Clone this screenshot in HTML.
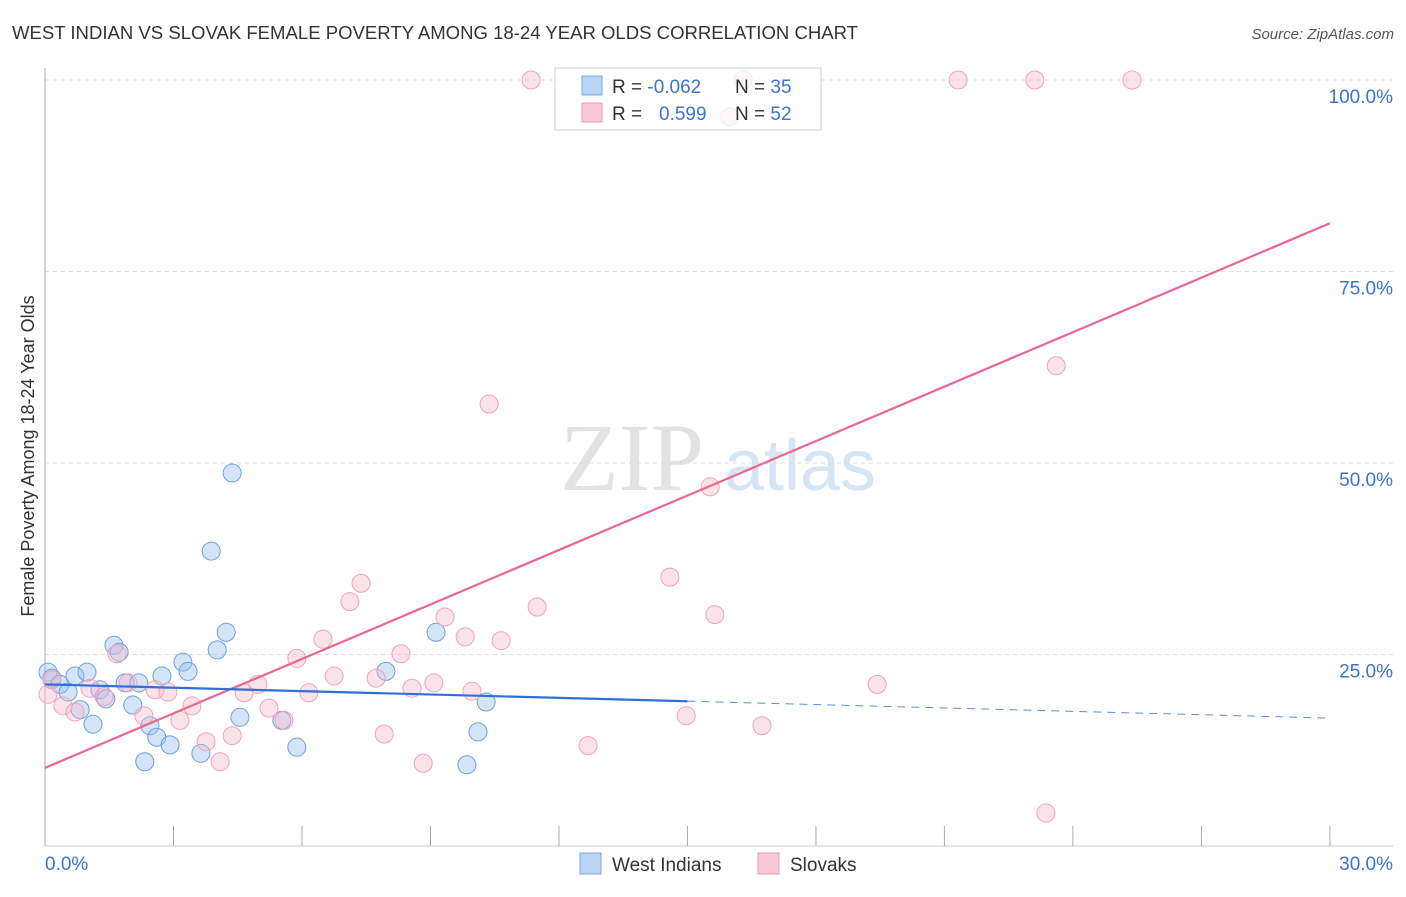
<!DOCTYPE html>
<html><head><meta charset="utf-8"><style>
body{margin:0;background:#fff;font-family:"Liberation Sans",sans-serif;}
</style></head><body>
<svg width="1406" height="892" xmlns="http://www.w3.org/2000/svg">
<text x="12" y="39" font-size="18" fill="#333" textLength="846" lengthAdjust="spacingAndGlyphs">WEST INDIAN VS SLOVAK FEMALE POVERTY AMONG 18-24 YEAR OLDS CORRELATION CHART</text>
<text x="1394" y="39" font-size="15" fill="#555" font-style="italic" text-anchor="end">Source: ZipAtlas.com</text>
<g>
<text x="632" y="490" font-size="96" fill="#e2e2e2" font-family="Liberation Serif,serif" text-anchor="middle">ZIP</text>
<text x="800" y="490" font-size="72" fill="#d6e4f4" text-anchor="middle">atlas</text>
</g>
<g id="grid"></g>
<g id="axes"></g>
<text transform="translate(34,456) rotate(-90)" font-size="18" fill="#333" text-anchor="middle">Female Poverty Among 18-24 Year Olds</text>
<g id="marks"></g>
<g id="lines"></g>
<g>
<rect x="555" y="68" width="266" height="62" fill="#fff" fill-opacity="0.75" stroke="#ccc"/>
<rect x="582" y="76" width="20" height="19" fill="#b9d3f5" stroke="#7aa8e6"/>
<rect x="582" y="103" width="20" height="19" fill="#fbc8d6" stroke="#ef9ab4"/>
<text x="612" y="93" font-size="19" fill="#333">R = <tspan fill="#3b74cc">-0.062</tspan></text>
<text x="735" y="93" font-size="19" fill="#333">N = <tspan fill="#3b74cc">35</tspan></text>
<text x="612" y="120" font-size="19" fill="#333">R = <tspan fill="#3b74cc" x="659">0.599</tspan></text>
<text x="735" y="120" font-size="19" fill="#333">N = <tspan fill="#3b74cc">52</tspan></text>
</g>
<g>
<rect x="580" y="853" width="21" height="21" fill="#b9d3f5" stroke="#7aa8e6"/>
<text x="612" y="871" font-size="19" fill="#333">West Indians</text>
<rect x="758" y="853" width="21" height="21" fill="#fbc8d6" stroke="#ef9ab4"/>
<text x="790" y="871" font-size="19" fill="#333">Slovaks</text>
</g>
</svg>
<script>
const blueX=[0.07,0.16,0.35,0.54,0.70,0.82,0.98,1.12,1.28,1.42,1.61,1.73,1.87,2.05,2.19,2.33,2.45,2.61,2.73,2.92,3.22,3.34,3.64,3.88,4.02,4.23,4.37,4.55,5.53,5.88,7.96,9.13,9.85,10.11,10.30];
const blueY=[22.7,21.9,21.1,20.1,22.2,17.8,22.7,15.9,20.4,19.2,26.2,25.3,21.3,18.4,21.3,11.0,15.7,14.2,22.2,13.2,24.0,22.8,12.1,38.5,25.6,27.9,48.7,16.8,16.4,12.9,22.8,27.9,10.6,14.9,18.8];
const pinkX=[0.07,0.16,0.42,0.70,1.05,1.38,1.68,1.94,2.31,2.57,2.87,3.15,3.43,3.76,4.09,4.37,4.65,4.97,5.23,5.58,5.88,6.16,6.49,6.75,7.12,7.38,7.73,7.92,8.31,8.57,8.83,9.08,9.34,9.81,9.97,10.37,10.65,11.35,11.49,12.68,14.59,14.97,15.53,15.64,15.99,16.30,16.74,19.43,21.32,23.11,23.37,23.61,25.38];
const pinkY=[19.8,21.7,18.3,17.5,20.6,19.5,25.1,21.3,17.0,20.4,20.1,16.4,18.3,13.6,11.0,14.4,20.0,21.1,18.0,16.4,24.5,20.0,27.0,22.2,31.9,34.3,21.9,14.6,25.1,20.6,10.8,21.3,29.9,27.3,20.2,57.7,26.8,100,31.2,13.1,35.1,17.0,46.9,30.2,95.2,100,15.7,21.1,100,100,4.3,62.7,100];
const yTicks=[25,50,75,100];
const yTickLabels=["25.0%","50.0%","75.0%","100.0%"];
const xTicks=[0,3,6,9,12,15,18,21,24,27,30];
const pinkTrend=[10.2,81.3];
const blueTrend=[21.1,16.7];
const blueSolidEnd=15;
const NS="http://www.w3.org/2000/svg";
const sx=v=>45+v*42.83, sy=v=>846-v*7.66;
function mk(tag,attrs,parent){const e=document.createElementNS(NS,tag);for(const k in attrs)e.setAttribute(k,attrs[k]);parent.appendChild(e);return e;}
const grid=document.getElementById('grid'),axes=document.getElementById('axes'),marks=document.getElementById('marks'),lines=document.getElementById('lines');
yTicks.forEach((t,i)=>{
 const l=mk('line',{x1:45,x2:1393,y1:sy(t),y2:sy(t),stroke:'#ddd','stroke-dasharray':'4,4'},grid);
 
 
 const tx=mk('text',{x:1393,y:sy(t)+23,'font-size':19,fill:'#3b74cc','text-anchor':'end'},grid);
 tx.textContent=yTickLabels[i];
 
 
});
const ya=mk('line',{x1:45,x2:45,y1:68,y2:846,stroke:'#aaa'},axes);


const xa=mk('line',{x1:45,x2:1393,y1:846,y2:846,stroke:'#ccc'},axes);


xTicks.forEach(t=>{
 const l=mk('line',{x1:sx(t),x2:sx(t),y1:826,y2:846,stroke:'#aaa'},axes);
 
 
});
const xl0=mk('text',{x:45,y:870,'font-size':19,fill:'#3b74cc'},axes);xl0.textContent=xTicks[0].toFixed(1)+'%';


const xl1=mk('text',{x:1393,y:870,'font-size':19,fill:'#3b74cc','text-anchor':'end'},axes);xl1.textContent=xTicks[xTicks.length-1].toFixed(1)+'%';


blueX.forEach((x,i)=>{
 const c=mk('circle',{cx:sx(x),cy:sy(blueY[i]),r:9,fill:'rgba(150,190,240,0.4)',stroke:'#6f9fe0','stroke-width':1},marks);
 
 
});
pinkX.forEach((x,i)=>{
 const c=mk('circle',{cx:sx(x),cy:sy(pinkY[i]),r:9,fill:'rgba(248,185,202,0.4)',stroke:'#f0a2ba','stroke-width':1},marks);
 
 
});
const bAt=x=>blueTrend[0]+(blueTrend[1]-blueTrend[0])*x/30;
const pl=mk('line',{x1:sx(0),y1:sy(pinkTrend[0]),x2:sx(30),y2:sy(pinkTrend[1]),stroke:'#e8678f','stroke-width':2.2},lines);


const bl=mk('line',{x1:sx(0),y1:sy(bAt(0)),x2:sx(blueSolidEnd),y2:sy(bAt(blueSolidEnd)),stroke:'#2f6fd6','stroke-width':2.2},lines);


const bd=mk('line',{x1:sx(blueSolidEnd),y1:sy(bAt(blueSolidEnd)),x2:sx(30),y2:sy(bAt(30)),stroke:'#5a8ee0','stroke-width':1,'stroke-dasharray':'8,6'},lines);


</script>
</body></html>
